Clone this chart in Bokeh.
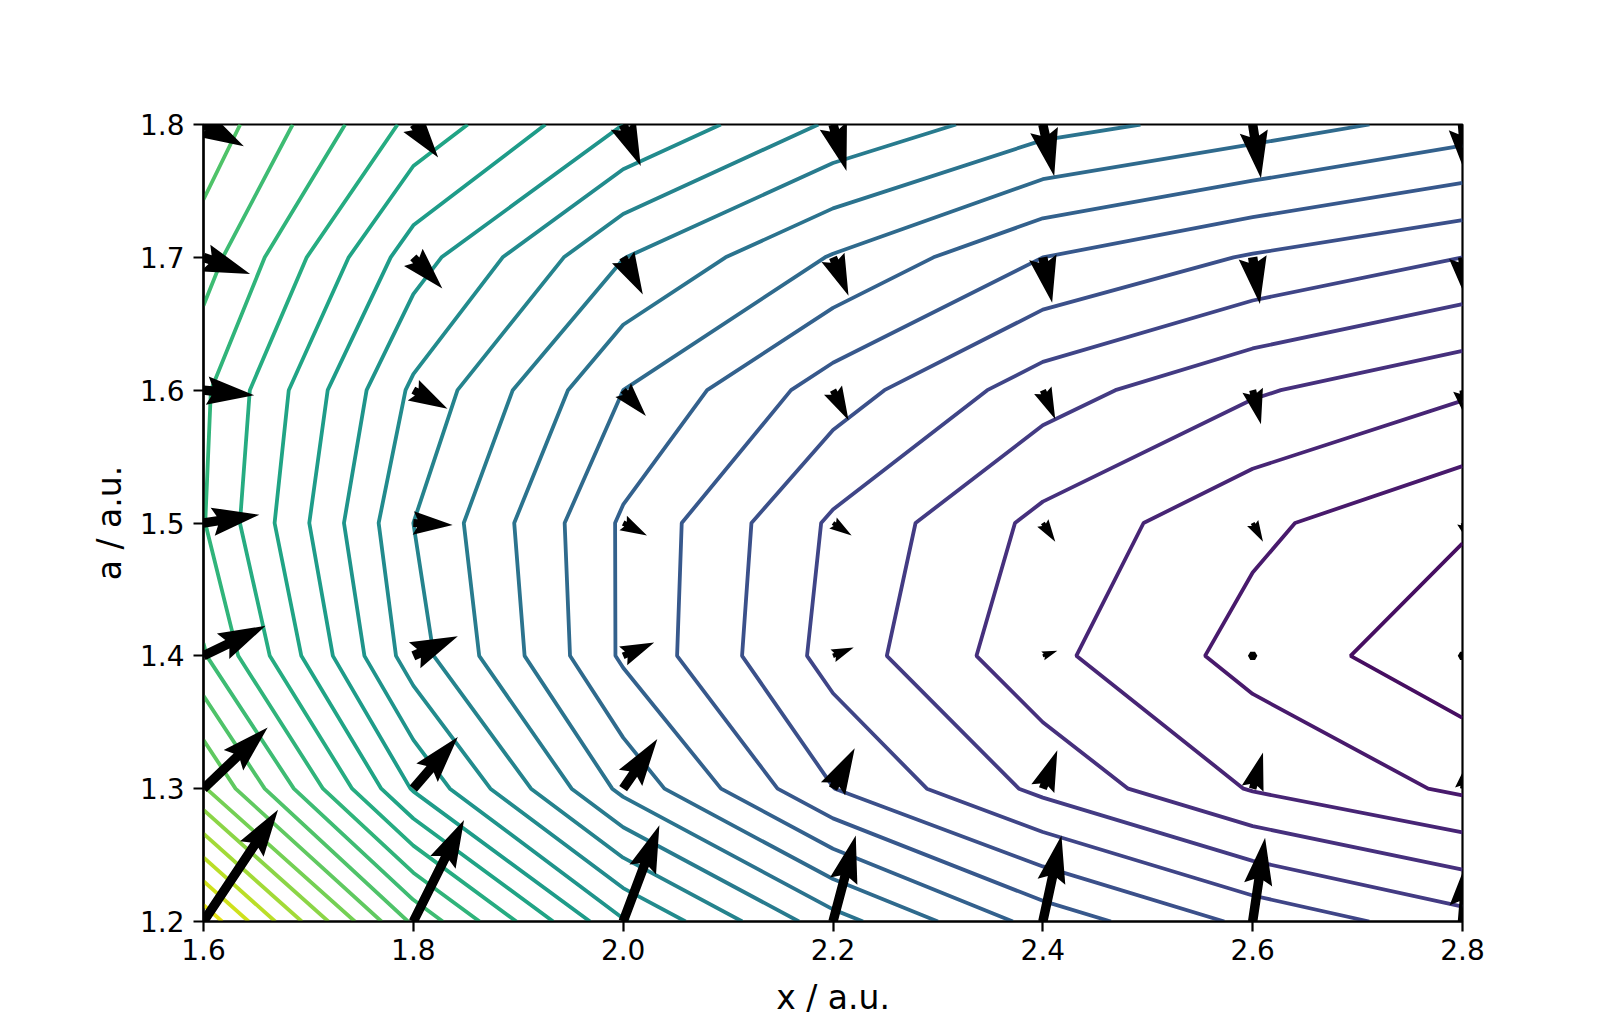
import math
import numpy as np
from bokeh.plotting import figure
from bokeh.models import FixedTicker, PrintfTickFormatter, Range1d
from bokeh.palettes import Viridis256
from bokeh.embed import file_html
from bokeh.resources import INLINE

# ---------------- data ----------------
x_values = [1.6, 1.8, 2.0, 2.2, 2.4, 2.6, 2.8]
a_values = [1.2, 1.3, 1.4, 1.5, 1.6, 1.7, 1.8]

# surface values on the grid, in units of one contour spacing (rows follow a_values)
energy_a120 = [28.7, 20.8, 15.1, 11.4, 8.6, 6.75, 5.4]
energy_a130 = [23.1, 15.9, 10.73, 7.02, 4.74, 2.92, 1.82]
energy_a140 = [20.1, 13.45, 8.83, 5.6, 3.26, 1.63, 0.28]
energy_a150 = [19.05, 13.0, 8.84, 5.83, 3.72, 2.22, 1.13]
energy_a160 = [19.19, 13.8, 10.0, 7.5, 5.46, 4.13, 3.16]
energy_a170 = [20.46, 15.46, 12.03, 9.92, 8.0, 6.9, 6.0]
energy_a180 = [21.7, 17.7, 15.0, 12.85, 11.4, 10.54, 9.57]

levels = [1, 2, 3, 4, 5, 6, 7, 8, 9, 10, 11, 12, 13, 14,
          15, 16, 17, 18, 19, 20, 21, 22, 23, 24, 25, 26, 27, 28]
level_norm_min, level_norm_max = 0, 29

# arrow components (screen units, x right / a up), rows follow a_values
force_u_a120 = [72, 49, 35, 22, 18, 12, 5]
force_u_a130 = [62, 43, 33, 21, 14, 10, 4]
force_u_a140 = [60, 43, 30, 20, 14, 0.6, -4]
force_u_a150 = [54, 38, 23, 18, 12, 10, 5]
force_u_a160 = [49, 33, 22, 15, 12, 8, 5]
force_u_a170 = [45, 28, 19, 15, 9, 7, 5]
force_u_a180 = [39, 24, 17, 13, 11, 8, 4]

force_v_a120 = [108, 98, 93, 83, 83, 81, 60]
force_v_a130 = [59, 50, 48, 39, 37, 35, 24]
force_v_a140 = [29, 19, 13, 8, 5, 0.3, 0.5]
force_v_a150 = [8, -2, -12, -12, -18, -18, -17]
force_v_a160 = [-5, -18, -25, -29, -28, -33, -30]
force_v_a170 = [-16, -30, -36, -37, -44, -45, -43]
force_v_a180 = [-21, -32, -40, -45, -50, -52, -50]

x_ticks = [1.6, 1.8, 2.0, 2.2, 2.4, 2.6, 2.8]
a_ticks = [1.2, 1.3, 1.4, 1.5, 1.6, 1.7, 1.8]

# ---------------- layout ----------------
FRAME_W, FRAME_H = 1259, 797
LEFT, RIGHT, TOP, BOTTOM = 203, 140, 124, 100
X0, X1 = 1.6, 2.8
Y0, Y1 = 1.2, 1.8

p = figure(width=LEFT + FRAME_W + RIGHT, height=TOP + FRAME_H + BOTTOM,
           x_range=Range1d(X0, X1), y_range=Range1d(Y0, Y1),
           min_border_left=LEFT, min_border_right=RIGHT,
           min_border_top=TOP, min_border_bottom=BOTTOM,
           output_backend="svg", toolbar_location=None)
p.background_fill_color = "white"
p.border_fill_color = "white"
p.grid.visible = False
p.outline_line_color = "black"
p.outline_line_width = 2.2
p.outline_line_alpha = 1.0

# ---------------- contours ----------------
energy = np.array([energy_a120, energy_a130, energy_a140, energy_a150,
                   energy_a160, energy_a170, energy_a180])
colors = [Viridis256[int(round((lv - level_norm_min) / (level_norm_max - level_norm_min) * 255))]
          for lv in levels]
p.contour(x=x_values, y=a_values, z=energy, levels=levels,
          line_color=colors, line_width=3.8)

# ---------------- quiver arrows (matplotlib-like polygons) ----------------
force_u = [force_u_a120, force_u_a130, force_u_a140, force_u_a150,
           force_u_a160, force_u_a170, force_u_a180]
force_v = [force_v_a120, force_v_a130, force_v_a140, force_v_a150,
           force_v_a160, force_v_a170, force_v_a180]
ARROW_SCALE = 1.035            # screen px per unit of force arrays
SHAFT_W = 0.0075 * FRAME_W     # shaft width in px
HEADW, HEADL, HEADAX, MINLEN = 3.0, 5.0, 4.5, 1.0
px_per_x = FRAME_W / (X1 - X0)
px_per_y = FRAME_H / (Y1 - Y0)

xs_all, ys_all = [], []
for j, a0 in enumerate(a_values):
    for i, x0 in enumerate(x_values):
        u = force_u[j][i] * ARROW_SCALE
        v = force_v[j][i] * ARROW_SCALE
        L = math.hypot(u, v) / SHAFT_W
        th = math.atan2(v, u)
        if L < MINLEN:
            ang = np.arange(0, 8) * (np.pi / 3.0)
            X = np.cos(ang) * MINLEN * 0.5
            Y = np.sin(ang) * MINLEN * 0.5
            th = 0.0
        elif L < HEADL:
            s = L / HEADL
            X = s * np.array([0, HEADL - HEADAX, HEADL - HEADL, HEADL, HEADL - HEADL, HEADL - HEADAX, 0, 0])
            Y = s * 0.5 * np.array([1, 1, HEADW, 0, -HEADW, -1, -1, 1])
        else:
            X = np.array([0, L - HEADAX, L - HEADL, L, L - HEADL, L - HEADAX, 0, 0])
            Y = 0.5 * np.array([1, 1, HEADW, 0, -HEADW, -1, -1, 1])
        c, s_ = math.cos(th), math.sin(th)
        Xr = (X * c - Y * s_) * SHAFT_W
        Yr = (X * s_ + Y * c) * SHAFT_W
        xs_all.append(list(x0 + Xr / px_per_x))
        ys_all.append(list(a0 + Yr / px_per_y))

p.patches(xs=xs_all, ys=ys_all, fill_color="black", line_color=None)

# ---------------- axes ----------------
FONT = "DejaVu Sans"
p.xaxis.ticker = FixedTicker(ticks=x_ticks)
p.yaxis.ticker = FixedTicker(ticks=a_ticks)
p.xaxis.formatter = PrintfTickFormatter(format="%.1f")
p.yaxis.formatter = PrintfTickFormatter(format="%.1f")
p.xaxis.axis_label = "x / a.u."
p.yaxis.axis_label = "a / a.u."
for ax in (p.xaxis, p.yaxis):
    ax.axis_line_width = 2.2
    ax.axis_line_color = "black"
    ax.major_tick_line_width = 2.2
    ax.major_tick_line_color = "black"
    ax.major_tick_out = 10
    ax.major_tick_in = 0
    ax.minor_tick_line_color = None
    ax.major_label_text_font = FONT
    ax.major_label_text_font_size = "28px"
    ax.major_label_text_color = "black"
    ax.axis_label_text_font = FONT
    ax.axis_label_text_font_size = "33px"
    ax.axis_label_text_font_style = "normal"
    ax.axis_label_text_color = "black"
p.xaxis.major_label_standoff = 7
p.yaxis.major_label_standoff = 9
p.xaxis.axis_label_standoff = 15
p.yaxis.axis_label_standoff = 8

open("out.html", "w").write(file_html(p, INLINE))
